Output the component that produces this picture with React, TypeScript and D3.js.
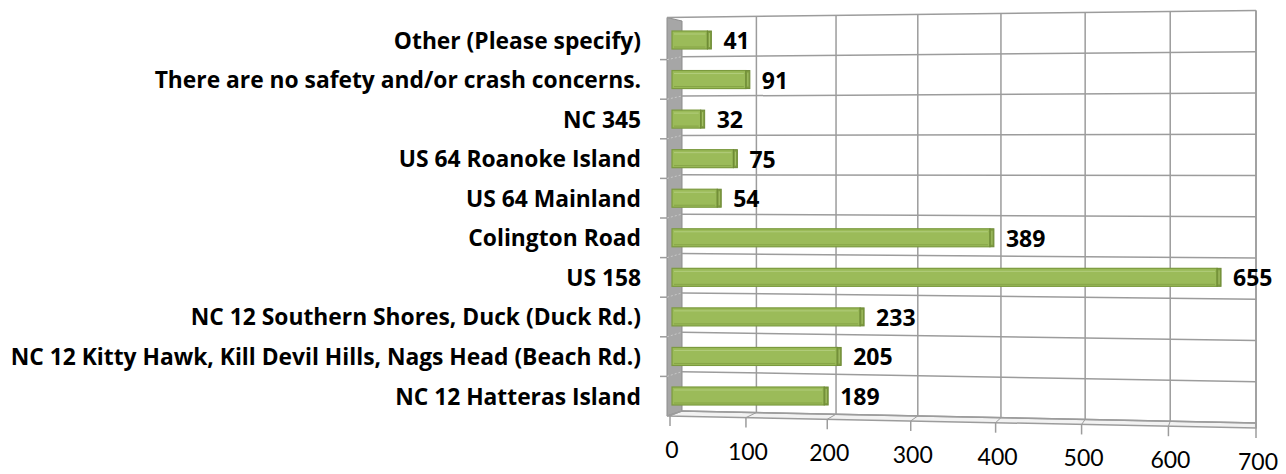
import React from "react";
import * as d3 from "d3";

const categories = [
  "Other (Please specify)",
  "There are no safety and/or crash concerns.",
  "NC 345",
  "US 64 Roanoke Island",
  "US 64 Mainland",
  "Colington Road",
  "US 158",
  "NC 12 Southern Shores, Duck (Duck Rd.)",
  "NC 12 Kitty Hawk, Kill Devil Hills, Nags Head (Beach Rd.)",
  "NC 12 Hatteras Island",
];
const values = [41, 91, 32, 75, 54, 389, 655, 233, 205, 189];
const tickValues = [0, 100, 200, 300, 400, 500, 600, 700];

const W = 1286;
const H = 474;
const XL = 667; // front-left edge of side wall
const XW = 682; // back wall left edge
const XR = 1256; // right edge

const lerp = (a: number, b: number, t: number) => a + (b - a) * t;
const topY = (x: number) => lerp(17.5, 10.5, (x - XL) / (XR - XL));
const botY = (x: number) => lerp(411, 423, (x - XW) / (XR - XW));
const frontY = (x: number) => lerp(416, 428, (x - XL) / (XR - XL));

export default function App() {
  const xBack = d3.scalePow().exponent(1.05).domain([0, 700]).range([XW, XR]);
  const xFront = d3.scalePow().exponent(1.05).domain([0, 700]).range([670, XR]);
  const xBar = d3.scalePow().exponent(1.05).domain([0, 700]).range([682, 1260]);
  const yBar = d3.scalePoint<string>().domain(categories).range([40, 396]);
  const nBounds = categories.length;
  const grid = "#9c9c9c";
  const barH = 18;
  const barX0 = 672;

  const hLines = d3.range(nBounds + 1).map((i) => {
    const t = i / nBounds;
    const yf = lerp(20, 416, t);
    const yAt = (x: number) => topY(x) + t * (botY(x) - topY(x));
    return { i, yf, yb0: yAt(XW), yb1: yAt(XR) };
  });

  return (
    <svg
      width={W}
      height={H}
      style={{ position: "absolute", left: 0, top: 0, background: "#fff" }}
    >
      {/* side wall */}
      <polygon
        points={`${XL},${17.5} ${XW},${21} ${XW},${411} ${XL},${416}`}
        fill="#a6a6a6"
        stroke="#8c8c8c"
        strokeWidth={1}
      />
      {/* floor */}
      <polygon
        points={`${XL},${416} ${XW},${411} ${XR},${423} ${XR},${428}`}
        fill="#f2f2f2"
        stroke={grid}
        strokeWidth={1.5}
      />
      {/* horizontal gridlines */}
      {hLines.map((l) => (
        <g key={"h" + l.i}>
          {l.i > 0 && l.i < nBounds && (
            <line x1={660} x2={XL} y1={l.yf} y2={l.yf} stroke={grid} strokeWidth={1.5} />
          )}
          {l.i > 0 && l.i < nBounds && (
            <line x1={XL} x2={XW} y1={l.yf} y2={l.yb0} stroke="#c8c8c8" strokeWidth={1} strokeDasharray="2,2" />
          )}
          <line x1={l.i === 0 ? XL : XW} x2={XR} y1={l.i === 0 ? 17.5 : l.yb0} y2={l.yb1} stroke={grid} strokeWidth={1.5} />
        </g>
      ))}
      {/* vertical gridlines on back wall */}
      {tickValues.map((t) => {
        const xb = xBack(t);
        const xf = xFront(t);
        return (
          <g key={"v" + t}>
            {t > 0 && (
              <line x1={xb} x2={xb} y1={topY(xb)} y2={botY(xb)} stroke={grid} strokeWidth={1.5} />
            )}
            <line x1={xb} x2={xf} y1={botY(xb)} y2={frontY(xf)} stroke={grid} strokeWidth={1} />
            <line x1={xf} x2={xf} y1={frontY(xf)} y2={frontY(xf) + 10} stroke={grid} strokeWidth={1.5} />
            <text
              x={xf + 2}
              y={frontY(xf) + 33}
              textAnchor="middle"
              dominantBaseline="central"
              fontFamily="Lato, 'Open Sans', sans-serif"
              fontSize={23}
              fill="#000"
            >
              {t}
            </text>
          </g>
        );
      })}
      <line x1={XR} x2={XR} y1={10.5} y2={428} stroke={grid} strokeWidth={1.5} />
      {/* bars */}
      {categories.map((c, i) => {
        const cy = yBar(c) as number;
        const x1 = xBar(values[i]);
        const y0 = cy - barH / 2;
        return (
          <g key={"b" + i}>
            <rect x={barX0} y={y0} width={x1 - barX0 - 4} height={barH} fill="#9bbb59" stroke="#7b9a3e" strokeWidth={1.2} />
            <line x1={barX0 + 2} x2={x1 - 6} y1={y0 + 3} y2={y0 + 3} stroke="#b2cd7c" strokeWidth={1} />
            <line x1={barX0 + 2} x2={x1 - 6} y1={y0 + barH - 2} y2={y0 + barH - 2} stroke="#86a447" strokeWidth={1} />
            <rect x={x1 - 4} y={y0} width={4} height={barH} fill="#7e9c3f" stroke="#6e8a36" strokeWidth={1} />
            <line x1={x1 - 2} x2={x1 - 2} y1={y0 + 2} y2={y0 + barH - 2} stroke="#a9c56e" strokeWidth={1} />
            <text
              x={x1 + 12}
              y={cy}
              dominantBaseline="central"
              fontFamily="'Open Sans', Lato, sans-serif"
              fontWeight="bold"
              fontSize={23}
              fill="#000"
            >
              {values[i]}
            </text>
            <text
              x={641}
              y={cy}
              textAnchor="end"
              dominantBaseline="central"
              fontFamily="'Open Sans', Lato, sans-serif"
              fontWeight="bold"
              fontSize={22.8}
              fill="#000"
            >
              {c}
            </text>
          </g>
        );
      })}
    </svg>
  );
}
